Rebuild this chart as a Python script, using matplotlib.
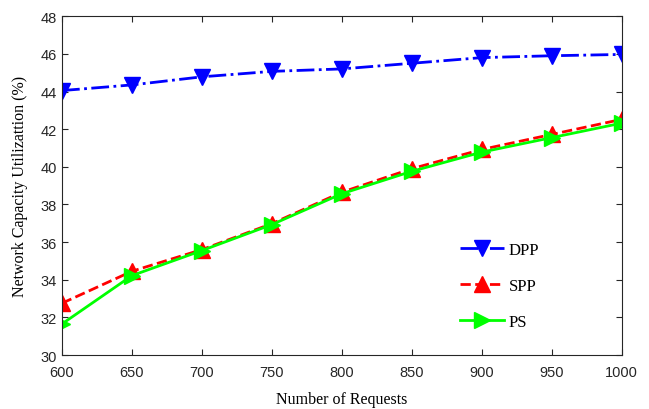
import numpy as np
import matplotlib
matplotlib.use('Agg')
import matplotlib.pyplot as plt

requests = [600, 650, 700, 750, 800, 850, 900, 950, 1000]
dpp = [44.05, 44.35, 44.78, 45.07, 45.2, 45.5, 45.8, 45.9, 45.97]
spp = [32.75, 34.45, 35.6, 36.98, 38.65, 39.9, 40.92, 41.72, 42.52]
ps = [31.65, 34.22, 35.55, 36.93, 38.57, 39.76, 40.78, 41.55, 42.32]

serif = ['Liberation Serif', 'DejaVu Serif']
sans = ['Liberation Sans', 'DejaVu Sans']

fig = plt.figure(figsize=(6.49, 4.10), dpi=100)
ax = fig.add_axes([0.0955, 0.1317, 0.8625, 0.8263])

ax.plot(requests, dpp, '-.', color='#0000ff', lw=2, marker='v', ms=11, label='DPP')
ax.plot(requests, spp, '--', color='#ff0000', lw=2, marker='^', ms=11, label='SPP')
ax.plot(requests, ps, '-', color='#00ff00', lw=2, marker='>', ms=11, label='PS')

ax.set_xlim(600, 1000)
ax.set_ylim(30, 48)
ax.set_xticks(np.arange(600, 1001, 50))
ax.set_yticks(np.arange(30, 49, 2))
ax.tick_params(direction='in', top=True, right=True, length=4, labelsize=10.5, colors='#262626')
ax.tick_params(axis='x', pad=7)
for lab in ax.get_xticklabels() + ax.get_yticklabels():
    lab.set_family(sans)
for s in ax.spines.values():
    s.set_color('#262626')
    s.set_linewidth(0.8)

ax.set_xlabel('Number of Requests', family=serif, fontsize=11.5, labelpad=9)
ax.set_ylabel('Network Capacity Utilizattion (%)', family=serif, fontsize=11.5, labelpad=9)

leg = ax.legend(loc='center left', bbox_to_anchor=(0.685, 0.203), frameon=False,
                prop={'family': serif, 'size': 12}, labelspacing=1.2,
                handlelength=2.6, handletextpad=0.3)

fig.savefig('out.png', dpi=100)
